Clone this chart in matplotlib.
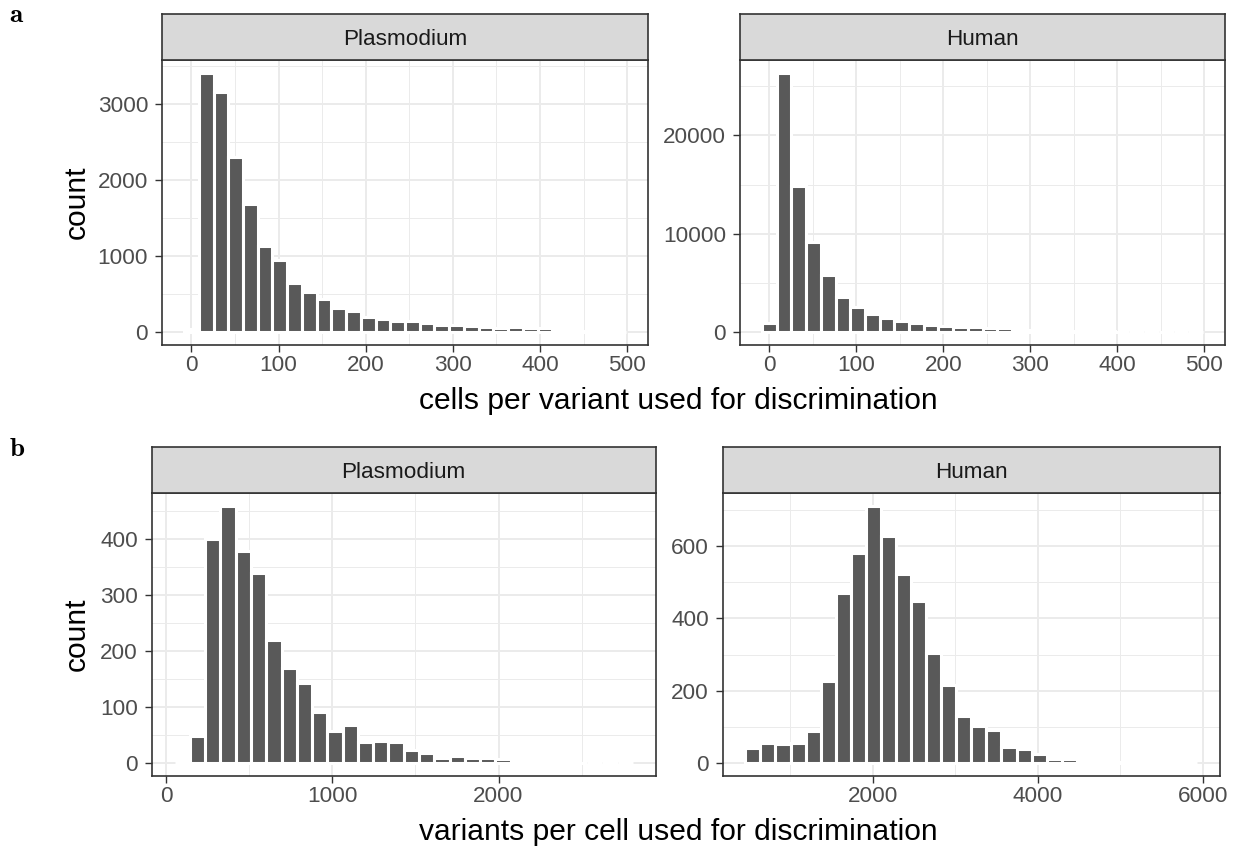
import numpy as np
import matplotlib
matplotlib.use("Agg")
import matplotlib.pyplot as plt
from matplotlib.ticker import MultipleLocator

plt.rcParams["font.family"] = ["Liberation Sans", "DejaVu Sans"]
plt.rcParams["mathtext.fontset"] = "cm"

# ---- histogram data (30 bins per panel) ----
species = ["Plasmodium", "Human"]

# cells per variant used for discrimination
cells_bin_first = [0.0, 0.0]          # centre of first bin
cells_bin_width = [16.9, 16.9]
cells_counts_plasmodium = [40, 3410, 3160, 2300, 1690, 1135, 945, 640, 525, 430,
                           320, 274, 204, 166, 140, 140, 120, 95, 95, 80,
                           70, 55, 66, 58, 52, 46, 44, 20, 10, 3]
cells_counts_human = [900, 26350, 14860, 9170, 5845, 3540, 2550, 1840, 1410, 1120,
                      920, 740, 620, 550, 480, 390, 380, 345, 250, 200,
                      160, 120, 90, 70, 50, 35, 25, 15, 8, 3]

# variants per cell used for discrimination
variants_bin_first = [97.0, 549.0]
variants_bin_width = [91.9, 182.6]
variants_counts_plasmodium = [1, 49, 399, 459, 378, 338, 220, 170, 142, 91,
                              58, 68, 38, 40, 37, 24, 18, 10, 12, 9,
                              10, 8, 3, 2, 4, 2, 1, 1, 0, 1]
variants_counts_human = [42, 55, 53, 57, 88, 228, 471, 580, 712, 629,
                         523, 447, 305, 217, 130, 103, 92, 44, 38, 26,
                         12, 12, 10, 8, 3, 2, 2, 7, 2, 1]

# tick spacing per panel (major)
cells_yticks = [1000, 10000]
variants_yticks = [100, 200]
cells_xticks = [100, 100]
variants_xticks = [1000, 2000]

x_title_a = "cells per variant used for discrimination"
x_title_b = "variants per cell used for discrimination"
y_title = "count"

# ---- layout (pixels) ----
W, H = 1250, 849
fig = plt.figure(figsize=(W / 100, H / 100), dpi=100)


def box(x0, x1, ytop, ybot):
    return [x0 / W, 1 - ybot / H, (x1 - x0) / W, (ybot - ytop) / H]


BAR = "#595959"
BORDER = "#333333"
GRID = "#EBEBEB"
TICKTXT = "#4D4D4D"
STRIP = "#D9D9D9"


def panel(rect, strip_top, centers, width, counts, xstep, ystep, title):
    ax = fig.add_axes(box(*rect))
    ax.bar(centers, counts, width=width, color=BAR, edgecolor="white",
           linewidth=2.2, zorder=2)
    lo = centers[0] - width / 2
    hi = centers[-1] + width / 2
    span = hi - lo
    ax.set_xlim(lo - 0.05 * span, hi + 0.05 * span)
    top = max(counts)
    ax.set_ylim(-0.05 * top, 1.05 * top)
    ax.xaxis.set_major_locator(MultipleLocator(xstep))
    ax.xaxis.set_minor_locator(MultipleLocator(xstep / 2))
    ax.yaxis.set_major_locator(MultipleLocator(ystep))
    ax.yaxis.set_minor_locator(MultipleLocator(ystep / 2))
    ax.grid(which="major", color=GRID, linewidth=1.4, zorder=0)
    ax.grid(which="minor", color=GRID, linewidth=0.7, zorder=0)
    ax.set_axisbelow(True)
    ax.tick_params(which="major", length=5, width=1.0, color=BORDER,
                   labelsize=16.2, labelcolor=TICKTXT)
    ax.tick_params(axis="y", which="major", pad=5.0)
    ax.tick_params(axis="x", which="major", pad=2.5)
    ax.tick_params(which="minor", length=0)
    for s in ax.spines.values():
        s.set_color(BORDER)
        s.set_linewidth(1.2)
        s.set_zorder(3)
    # facet strip
    sx = fig.add_axes(box(rect[0], rect[1], strip_top, rect[2]))
    sx.set_facecolor(STRIP)
    sx.set_xticks([])
    sx.set_yticks([])
    for s in sx.spines.values():
        s.set_color(BORDER)
        s.set_linewidth(1.2)
    sx.text(0.5, 0.326, title, transform=sx.transAxes, ha="center",
            va="baseline", fontsize=16.2, color="#1A1A1A")
    return ax


cells_counts = [cells_counts_plasmodium, cells_counts_human]
variants_counts = [variants_counts_plasmodium, variants_counts_human]

rects_a = [(162, 648, 60, 345), (740, 1225, 60, 345)]
rects_b = [(151.7, 655.7, 492.7, 776), (722.7, 1220, 492.7, 776)]

for i, name in enumerate(species):
    n = len(cells_counts[i])
    centers = cells_bin_first[i] + cells_bin_width[i] * np.arange(n)
    panel(rects_a[i], 14, centers, cells_bin_width[i], cells_counts[i],
          cells_xticks[i], cells_yticks[i], name)

for i, name in enumerate(species):
    n = len(variants_counts[i])
    centers = variants_bin_first[i] + variants_bin_width[i] * np.arange(n)
    panel(rects_b[i], 446.7, centers, variants_bin_width[i], variants_counts[i],
          variants_xticks[i], variants_yticks[i], name)

# axis titles
fig.text(678 / W, 1 - 409 / H, x_title_a, ha="center", va="baseline",
         fontsize=21.6, color="black")
fig.text(678 / W, 1 - 840 / H, x_title_b, ha="center", va="baseline",
         fontsize=21.6, color="black")
fig.text(77 / W, 1 - 202.5 / H, y_title, ha="center", va="center",
         rotation=90, fontsize=21.6, color="black")
fig.text(77 / W, 1 - 634 / H, y_title, ha="center", va="center",
         rotation=90, fontsize=21.6, color="black")

# panel tags
fig.text(9.3 / W, 1 - 21.7 / H, r"$\mathbf{a}$", ha="left", va="baseline",
         fontsize=19.5)
fig.text(9.3 / W, 1 - 456 / H, r"$\mathbf{b}$", ha="left", va="baseline",
         fontsize=19.5)

fig.savefig("out.png", dpi=100, facecolor="white")
